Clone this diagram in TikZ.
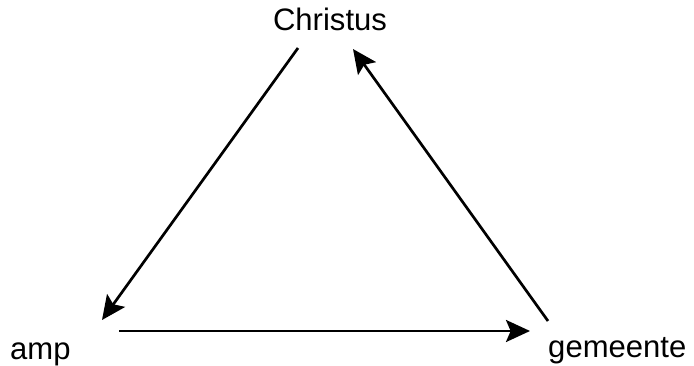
\documentclass[tikz,border=0pt]{standalone}
\usepackage{fontspec}
\setmainfont{Liberation Sans}
\usetikzlibrary{arrows.meta}

\begin{document}
\begin{tikzpicture}[
  x=0.3mm, y=-0.3mm,
  font=\fontsize{26.5}{30}\selectfont,
  lbl/.style={inner sep=0pt},
  arr/.style={-{Stealth[length=7.2mm, width=6.6mm, inset=1.4mm]}, line width=2.3pt}
]
\useasboundingbox (0,0) rectangle (694,366);
% ----- labels -----
\node[lbl, anchor=base] (christus) at (330,31) {Christus};
\node[lbl, anchor=base west] (amp) at (10,359) {amp};
\node[lbl, anchor=base west] (gemeente) at (548,357) {gemeente};
% ----- end points of the arrows -----
\coordinate (c-out) at (298,48);
\coordinate (c-in) at (353,49);
\coordinate (a-in) at (102,320);
\coordinate (a-out) at (119,331);
\coordinate (g-in) at (530,331);
\coordinate (g-out) at (548,321);
\draw[arr] (c-out) -- (a-in);
\draw[arr] (a-out) -- (g-in);
\draw[arr] (g-out) -- (c-in);
\end{tikzpicture}
\end{document}
